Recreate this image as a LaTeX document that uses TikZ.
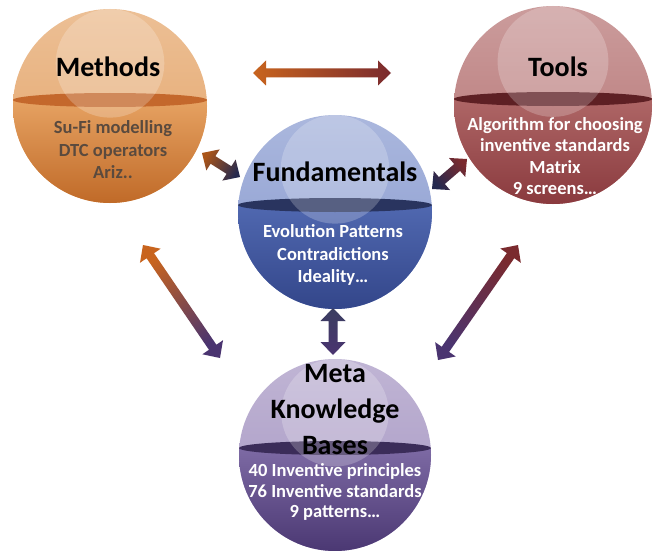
\documentclass[tikz,border=0pt]{standalone}
\usepackage{fontspec}
\setmainfont{Carlito}
\usetikzlibrary{calc}
% sphere colours
\definecolor{mUp}{HTML}{E4A468}\definecolor{mLoT}{HTML}{E6A262}\definecolor{mLoB}{HTML}{C06A28}\definecolor{mEq}{HTML}{C4682C}
\definecolor{tUp}{HTML}{B57272}\definecolor{tLoT}{HTML}{AE6666}\definecolor{tLoB}{HTML}{8A3A3E}\definecolor{tEq}{HTML}{5E2024}
\definecolor{fUp}{HTML}{8799CF}\definecolor{fLoT}{HTML}{5068B0}\definecolor{fLoB}{HTML}{33468A}\definecolor{fEq}{HTML}{29345F}
\definecolor{kUp}{HTML}{A595C2}\definecolor{kLoT}{HTML}{7D6AA4}\definecolor{kLoB}{HTML}{4B3873}\definecolor{kEq}{HTML}{3B2C59}
\definecolor{mText}{HTML}{5A4A3E}
% arrow colours
\definecolor{aOrange}{HTML}{C8641E}
\definecolor{aMaroon}{HTML}{7A2A2E}
\definecolor{aNavy}{HTML}{25294F}
\definecolor{aPurple}{HTML}{4A3470}
\newcommand\drawsphere[8]{%
  \node[circle, inner sep=0pt, minimum size={2*#3pt}, top color=#4!70!white, bottom color=#4] (#1) at (#2) {};
  \begin{scope}
    \clip (#1.center) circle[radius=#3];
    \path[top color=#5, bottom color=#6] ($(#1.center)+(-#3,#8)$) rectangle ($(#1.center)+(#3,#3)$);
    \fill[#7] ($(#1.center)+(0,#8)$) ellipse[x radius=#3, y radius=7];
    \fill[white, opacity=0.22] ($(#1.center)+(0,-0.44*#3)$) circle[radius=0.56*#3];
  \end{scope}
}
\newcommand\dblarrow[4]{%
  \pgfmathanglebetweenpoints{\pgfpointanchor{#1}{center}}{\pgfpointanchor{#2}{center}}%
  \pgfmathsetmacro\arrang{\pgfmathresult-90}%
  \coordinate (ba1) at ($(#1)!13pt!(#2)$);
  \coordinate (ba2) at ($(#2)!13pt!(#1)$);
  \path[top color=#4, bottom color=#3, shading angle=\arrang]
    (#1) -- ($(ba1)!12.5pt!90:(#2)$) -- ($(ba1)!4.5pt!90:(#2)$)
    -- ($(ba2)!4.5pt!-90:(#1)$) -- ($(ba2)!12.5pt!-90:(#1)$) -- (#2)
    -- ($(ba2)!12.5pt!90:(#1)$) -- ($(ba2)!4.5pt!90:(#1)$)
    -- ($(ba1)!4.5pt!-90:(#2)$) -- ($(ba1)!12.5pt!-90:(#2)$) -- cycle;
}
\begin{document}
\begin{tikzpicture}[x=1pt,y=-1pt,
  title/.style={font=\fontsize{28}{36}\selectfont\bfseries, text=black, align=center, inner sep=0pt},
  sub/.style={font=\fontsize{18.5}{22.5}\selectfont\bfseries, align=center, inner sep=0pt}]
\useasboundingbox[fill=white] (0,0) rectangle (659,551);

% spheres
\drawsphere{methods}{110,106}{97}{mUp}{mLoT}{mLoB}{mEq}{-6}
\drawsphere{tools}{553,105}{99}{tUp}{tLoT}{tLoB}{tEq}{-6}
\drawsphere{fund}{335,212}{97}{fUp}{fLoT}{fLoB}{fEq}{-7}
\drawsphere{meta}{335,455}{96}{kUp}{kLoT}{kLoB}{kEq}{-7}

% arrow end points
\coordinate (mt1) at (253,73);  \coordinate (mt2) at (391,73);
\coordinate (mf1) at (202,153); \coordinate (mf2) at (240,177);
\coordinate (tf1) at (432,189); \coordinate (tf2) at (467,159);
\coordinate (mk1) at (143,245); \coordinate (mk2) at (220,358);
\coordinate (tk1) at (518,245); \coordinate (tk2) at (438,360);
\coordinate (fk1) at (333,308); \coordinate (fk2) at (333,355);

\dblarrow{mt1}{mt2}{aOrange}{aMaroon}
\dblarrow{mf1}{mf2}{aOrange!85!black}{aNavy}
\dblarrow{tf1}{tf2}{aNavy}{aMaroon}
\dblarrow{mk1}{mk2}{aOrange}{aPurple}
\dblarrow{tk1}{tk2}{aMaroon}{aPurple}
\dblarrow{fk1}{fk2}{aNavy!90!white}{aPurple}

% texts
\node[title] (methodsT) at (108,67) {Methods};
\node[sub, text=mText] (methodsS) at (113,150) {Su-Fi modelling\\DTC operators\\Ariz..};
\node[title] (toolsT) at (558,67) {Tools};
\node[sub, text=white, font=\fontsize{18.5}{21.5}\selectfont\bfseries] (toolsS) at (555,156) {Algorithm for choosing\\inventive standards\\Matrix\\9 screens\ldots};
\node[title] (fundT) at (335,172) {Fundamentals};
\node[sub, text=white] (fundS) at (333,255) {Evolution Patterns\\Contradictions\\Ideality\ldots};
\node[title] (metaT) at (335,410) {Meta\\Knowledge\\Bases};
\node[sub, text=white, font=\fontsize{18.5}{20.5}\selectfont\bfseries] (metaS) at (335,492) {40 Inventive principles\\76 Inventive standards\\9 patterns\ldots};
\end{tikzpicture}
\end{document}
